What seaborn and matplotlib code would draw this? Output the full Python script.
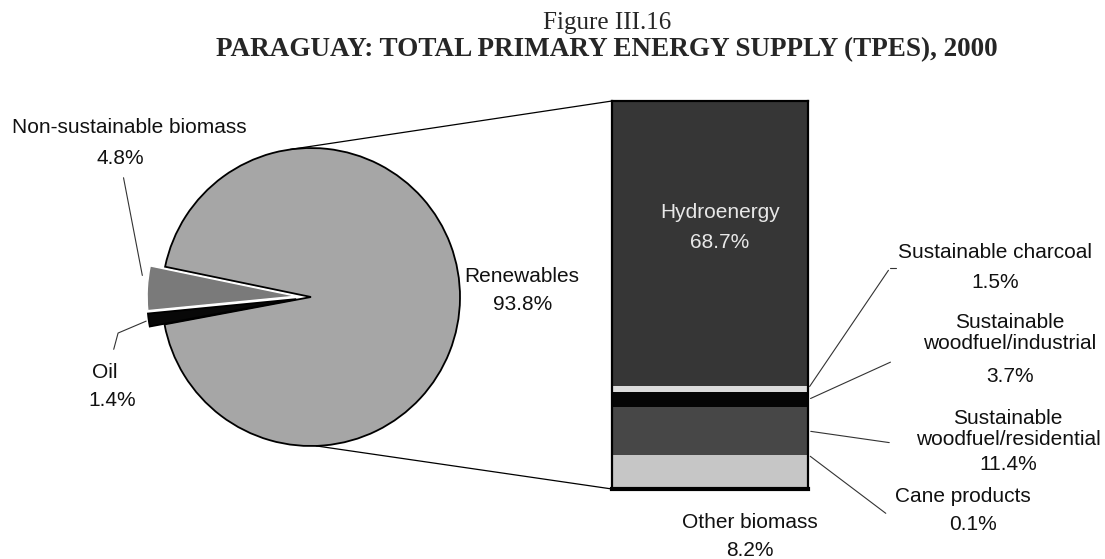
import matplotlib
matplotlib.use("Agg")
import matplotlib.pyplot as plt
from matplotlib.patches import ConnectionPatch
import numpy as np
import seaborn as sns

# Pie data (TPES 2000)
pie_labels = ["Renewables", "Non-sustainable biomass", "Oil"]
pie_values = [93.8, 4.8, 1.4]
pie_colors = ["#a6a6a6", "#7a7a7a", "#080808"]

# Breakdown of renewables, bottom to top
bar_labels = ["Other biomass", "Cane products", "Sustainable\nwoodfuel/residential",
              "Sustainable\nwoodfuel/industrial", "Sustainable charcoal", "Hydroenergy"]
bar_values = [8.2, 0.1, 11.4, 3.7, 1.5, 68.7]
bar_colors = ["#c6c6c6", "#9a9a9a", "#474747", "#050505", "#dcdcdc", "#363636"]

sns.set_theme(style="white")
plt.rcParams["font.family"] = ["Liberation Sans", "DejaVu Sans"]

W, H = 1105, 559
fig = plt.figure(figsize=(W / 100, H / 100), dpi=100)


def fx(x):
    return x / W


def fy(y):
    return 1 - y / H


# pie axes: centre (311, 297) px, radius 149 px
R = 149
half = 180
ax_pie = fig.add_axes([fx(311 - half), fy(297 + half), 2 * half / W, 2 * half / H])
wedges, _ = ax_pie.pie(pie_values, colors=pie_colors, startangle=190.6,
                       explode=[0, 0.1, 0.1],
                       wedgeprops=dict(edgecolor="black", linewidth=1.3))
wedges[1].set_edgecolor("white")
wedges[1].set_linewidth(1.0)
ax_pie.set_xlim(-half / R, half / R)
ax_pie.set_ylim(-half / R, half / R)
ax_pie.set_aspect("auto")
ax_pie.axis("off")

# stacked bar axes
ax_bar = fig.add_axes([fx(612), fy(489), (808 - 612) / W, (489 - 101) / H])
bottoms = np.concatenate([[0], np.cumsum(bar_values)[:-1]])
ax_bar.bar([0] * len(bar_values), bar_values, bottom=bottoms, width=1.0,
           color=bar_colors, edgecolor="none")
total = sum(bar_values)
ax_bar.set_xlim(-0.5, 0.5)
ax_bar.set_ylim(0, total)
ax_bar.set_xticks([])
ax_bar.set_yticks([])
for side, sp in ax_bar.spines.items():
    sp.set_visible(True)
    sp.set_color("black")
    sp.set_linewidth(3 if side == "bottom" else 1.6)

# zoom lines from pie to bar
for ang, ybar in [(98, total), (-88, 0)]:
    a = np.deg2rad(ang)
    con = ConnectionPatch(xyA=(np.cos(a), np.sin(a)), coordsA=ax_pie.transData,
                          xyB=(-0.5, ybar), coordsB=ax_bar.transData,
                          color="black", linewidth=0.9)
    fig.add_artist(con)

# titles
fig.text(fx(607), fy(23), "Figure III.16", ha="center", va="center",
         fontsize=18, family="Liberation Serif")
fig.text(fx(607), fy(50), "PARAGUAY: TOTAL PRIMARY ENERGY SUPPLY (TPES), 2000",
         ha="center", va="center", fontsize=19.5, family="Liberation Serif",
         fontweight="bold")

fs = 15


def label(x, y, s, **kw):
    fig.text(fx(x), fy(y), s, ha="center", va="center", fontsize=fs,
             color=kw.pop("color", "#111111"), linespacing=1.12, **kw)


# pie labels
label(129, 128, pie_labels[1])
label(120, 158, f"{pie_values[1]}%")
label(105, 372, pie_labels[2])
label(112, 400, f"{pie_values[2]}%")
label(522, 276, pie_labels[0])
label(523, 305, f"{pie_values[0]}%")

# pie leader lines
mid_bio = np.deg2rad(190.6 + 3.6 * pie_values[0] + 1.8 * pie_values[1])
ax_pie.annotate("", xy=(1.05 * np.cos(mid_bio) - 0.08, 1.05 * np.sin(mid_bio) + 0.07),
                xytext=(fx(123), fy(175)), textcoords="figure fraction",
                arrowprops=dict(arrowstyle="-", color="#333333", lw=0.8))
mid_oil = np.deg2rad(190.6 + 3.6 * (pie_values[0] + pie_values[1]) + 1.8 * pie_values[2])
ax_pie.annotate("", xy=(1.1 * np.cos(mid_oil), 1.1 * np.sin(mid_oil)),
                xytext=(fx(113), fy(352)), textcoords="figure fraction",
                arrowprops=dict(arrowstyle="-", color="#333333", lw=0.8,
                                connectionstyle="angle,angleA=75,angleB=23,rad=0"))

# bar labels
label(720, 213, bar_labels[5], color="#e8e8e8")
label(720, 242, f"{bar_values[5]}%", color="#e8e8e8")
label(750, 523, bar_labels[0])
label(750, 550, f"{bar_values[0]}%")
label(995, 253, bar_labels[4])
label(995, 282, f"{bar_values[4]}%")
label(1010, 333, bar_labels[3])
label(1010, 377, f"{bar_values[3]}%")
label(1008, 429, bar_labels[2])
label(1008, 465, f"{bar_values[2]}%")
label(963, 497, bar_labels[1])
label(973, 525, f"{bar_values[1]}%")

# bar leader lines (charcoal one ends in a short horizontal tick)
mids = bottoms + np.array(bar_values) / 2
targets = {4: (890, 268), 3: (893, 361), 2: (892, 443), 1: (888, 515)}
for i, (tx, ty) in targets.items():
    yy = mids[i] if i != 1 else bottoms[2]
    ax_bar.annotate("", xy=(0.5, yy), xytext=(fx(tx), fy(ty)),
                    textcoords="figure fraction",
                    arrowprops=dict(arrowstyle="-", color="#333333", lw=0.8))
fig.add_artist(plt.Line2D([fx(890), fx(896)], [fy(268), fy(268)],
                          color="#333333", lw=0.8))

fig.savefig("out.png", dpi=100)
